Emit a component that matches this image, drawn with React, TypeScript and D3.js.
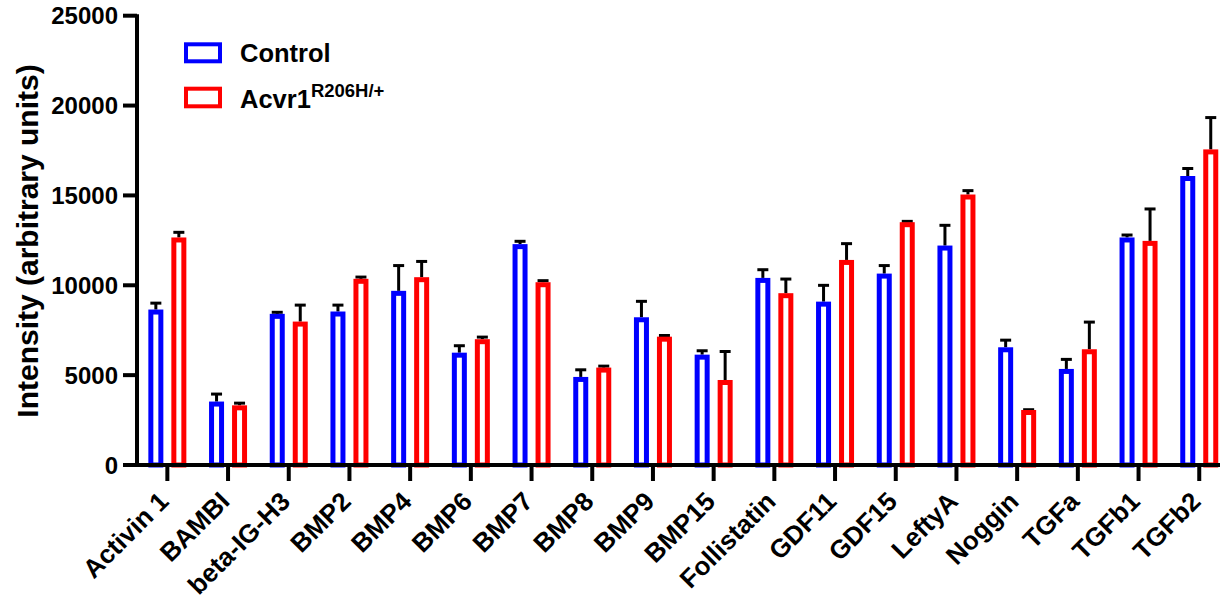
import React from 'react';
import * as d3 from 'd3';

// categories along the x axis
const categories = [
  'Activin 1', 'BAMBI', 'beta-IG-H3', 'BMP2', 'BMP4', 'BMP6', 'BMP7', 'BMP8', 'BMP9',
  'BMP15', 'Follistatin', 'GDF11', 'GDF15', 'LeftyA', 'Noggin', 'TGFa', 'TGFb1', 'TGFb2',
];

// Control means and upper error (SEM)
const controlMean = [8650, 3530, 8410, 8540, 9690, 6250, 12290, 4900, 8220, 6140, 10410, 9090, 10650, 12210, 6550, 5345, 12660, 16080];
const controlErr = [440, 500, 170, 440, 1490, 470, 240, 480, 970, 300, 540, 990, 530, 1210, 480, 615, 220, 500];

// Acvr1 R206H/+ means and upper error
const mutantMean = [12660, 3320, 7980, 10360, 10450, 7000, 10170, 5420, 7140, 4730, 9560, 11410, 13510, 15050, 3060, 6440, 12470, 17560];
const mutantErr = [370, 205, 1000, 180, 960, 200, 170, 165, 150, 1670, 870, 990, 130, 300, 100, 1595, 1860, 1855];

const yTicks = [0, 5000, 10000, 15000, 20000, 25000];

const W = 1220;
const H = 601;
const FONT = '"Liberation Sans", Arial, Helvetica, sans-serif';
const BLUE = '#0000ff';
const RED = '#ff0000';

export default function App() {
  const x0 = 137;
  const x = d3.scaleBand().domain(categories).range([x0, x0 + 18 * 60.7]).padding(0);
  const y = d3.scaleLinear().domain([0, 25000]).range([465, 15.7]);

  const barW = 10;
  const sw = 5;
  const offset = 11.5;

  const series = [
    { name: 'Control', color: BLUE, mean: controlMean, err: controlErr, dx: -offset },
    { name: 'Acvr1', color: RED, mean: mutantMean, err: mutantErr, dx: offset },
  ];

  return (
    <svg width={W} height={H} style={{ position: 'absolute', left: 0, top: 0, background: '#fff' }}
      fontFamily={FONT} fontWeight="bold">
      {/* bars with upward error bars */}
      {series.map(s => (
        <g key={s.name}>
          {categories.map((c, i) => {
            const cx = (x(c) as number) + x.bandwidth() / 2 + s.dx;
            const top = y(s.mean[i]);
            const errTop = y(s.mean[i] + s.err[i]);
            return (
              <g key={c}>
                <line x1={cx} x2={cx} y1={top} y2={errTop + 1.5} stroke="#000" strokeWidth={3} />
                <line x1={cx - 5.5} x2={cx + 5.5} y1={errTop + 1.5} y2={errTop + 1.5} stroke="#000" strokeWidth={3} />
                <rect x={cx - barW / 2} y={top + sw / 2} width={barW} height={y(0) - top - sw / 2}
                  fill="#fff" stroke={s.color} strokeWidth={sw} />
              </g>
            );
          })}
        </g>
      ))}

      {/* y axis */}
      <line x1={x0} x2={x0} y1={y(25000) - 1.5} y2={y(0) + 2} stroke="#000" strokeWidth={4} />
      {yTicks.map(t => (
        <g key={t} transform={`translate(0,${y(t)})`}>
          <line x1={123} x2={x0} y1={0} y2={0} stroke="#000" strokeWidth={4} />
          <text x={118} y={8.7} textAnchor="end" fontSize={24}>{t}</text>
        </g>
      ))}
      <text transform={`translate(38,241) rotate(-90)`} textAnchor="middle" fontSize={30}>
        Intensity (arbitrary units)
      </text>

      {/* x axis */}
      <line x1={x0 - 2} x2={W} y1={y(0)} y2={y(0)} stroke="#000" strokeWidth={4} />
      {categories.map(c => {
        const cx = (x(c) as number) + x.bandwidth() / 2;
        return (
          <g key={c}>
            <line x1={cx} x2={cx} y1={y(0)} y2={y(0) + 16} stroke="#000" strokeWidth={4} />
            <text transform={`translate(${cx + 3},${y(0) + 38}) rotate(-45)`} textAnchor="end" fontSize={26}>{c}</text>
          </g>
        );
      })}

      {/* legend */}
      <rect x={186} y={44.3} width={34} height={17} fill="#fff" stroke={BLUE} strokeWidth={4} />
      <text x={240} y={62} fontSize={25.5}>Control</text>
      <rect x={186} y={88.7} width={34} height={17.6} fill="#fff" stroke={RED} strokeWidth={4} />
      <text x={240} y={108} fontSize={25.5}>
        Acvr1<tspan fontSize={18.5} dy={-11}>R206H/+</tspan>
      </text>
    </svg>
  );
}
